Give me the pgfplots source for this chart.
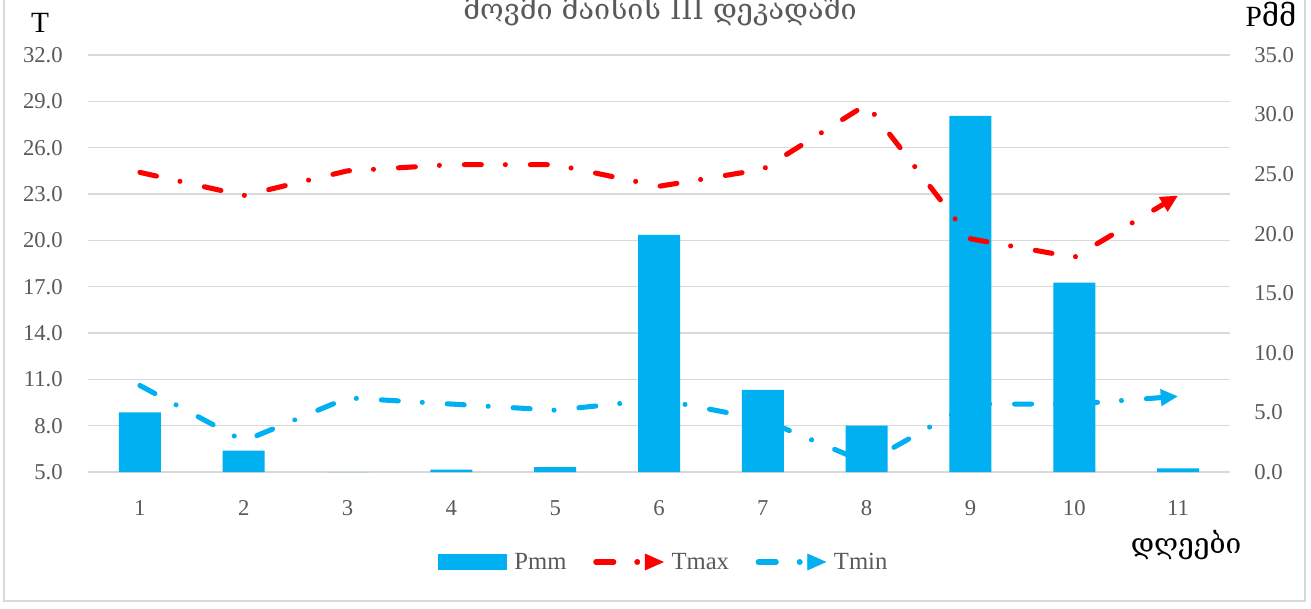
\documentclass[border=0pt]{standalone}
\usepackage{fontspec}
\setmainfont{Liberation Serif}
\newfontfamily\geo{DejaVu Serif}
\usepackage{pgfplots}
\pgfplotsset{compat=1.18}
\usetikzlibrary{arrows.meta}

\definecolor{barblue}{HTML}{00B0F0}
\definecolor{tred}{HTML}{FF0000}
\definecolor{gridgray}{HTML}{D9D9D9}
\definecolor{tickgray}{HTML}{595959}

\pgfplotsset{
  base/.style={
    at={(66pt,102pt)}, anchor=south west,
    scale only axis, width=856.5pt, height=312.75pt,
    xmin=0.5, xmax=11.5,
    major tick length=0pt,
    /pgf/number format/assume math mode=true,
    tick label style={font=\fontsize{17}{20}\selectfont, text=tickgray, inner sep=0pt},
  },
  tline/.style={line width=3.8pt, line cap=round, line join=round,
    dash pattern=on 12.75pt off 18pt on 0.01pt off 18.75pt,
    -{Triangle[length=13pt,width=12pt]}},
}

\begin{document}
\begin{tikzpicture}[x=0.75pt,y=0.75pt]
\path[use as bounding box, clip] (0,0) rectangle (1311,608);
\draw[gridgray, line width=1.2pt] (4,640) -- (4,7) -- (1305,7) -- (1305,640);

% left axis: grid and T ticks
\begin{axis}[base,
    ymin=5, ymax=32, ytick={5,8,...,32}, xtick={1,...,11},
    ymajorgrids, grid style={gridgray, line width=1pt},
    axis line style={draw=none},
    yticklabel style={anchor=east, xshift=-18.75pt,
      /pgf/number format/fixed, /pgf/number format/fixed zerofill,
      /pgf/number format/precision=1},
    xticklabel style={anchor=north, yshift=-21pt},
]
\addplot[draw=none] coordinates {(1,5)};
\end{axis}

% right axis: precipitation bars
\begin{axis}[base,
    ymin=0, ymax=35, ytick={0,5,...,35},
    axis y line*=right, hide x axis,
    axis line style={draw=none},
    yticklabel style={anchor=west, xshift=18pt,
      /pgf/number format/fixed, /pgf/number format/fixed zerofill,
      /pgf/number format/precision=1},
]
\addplot[ybar, bar width=31.5pt, fill=barblue, draw=none] coordinates {
  (1,5.0) (2,1.8) (3,0) (4,0.2) (5,0.4) (6,19.9)
  (7,6.9) (8,3.9) (9,29.9) (10,15.9) (11,0.3)
};
\end{axis}

% temperature lines
\begin{axis}[base,
    ymin=5, ymax=32, hide axis,
    legend columns=3,
    legend style={at={(0.5044,-0.2158)}, anchor=center, draw=none, fill=none,
      font=\fontsize{18.5}{22}\selectfont, text=tickgray,
      /tikz/every odd column/.append style={column sep=4pt},
      /tikz/every even column/.append style={column sep=18pt}},
]
\addlegendimage{legend image code/.code={
  \fill[barblue] (0pt,-5.6pt) rectangle (51pt,5.6pt);}}
\addlegendentry{Pmm}
\addlegendimage{legend image code/.code={
  \draw[tred, line width=3.8pt, line cap=round] (0pt,0pt) -- (13.5pt,0pt);
  \fill[tred] (31.1pt,0pt) circle (2pt);
  \fill[tred] (37.1pt,-6pt) -- (50.6pt,0pt) -- (37.1pt,6pt) -- cycle;}}
\addlegendentry{Tmax}
\addlegendimage{legend image code/.code={
  \draw[barblue, line width=3.8pt, line cap=round] (0pt,0pt) -- (13.5pt,0pt);
  \fill[barblue] (31.1pt,0pt) circle (2pt);
  \fill[barblue] (37.1pt,-6pt) -- (50.6pt,0pt) -- (37.1pt,6pt) -- cycle;}}
\addlegendentry{Tmin}

\addplot[tred, tline, forget plot] coordinates {
  (1,24.4) (2,22.9) (3,24.5) (4,24.9) (5,24.9) (6,23.5)
  (7,24.6) (8,28.8) (9,20.1) (10,18.9) (11,22.9)
};
\addplot[barblue, tline, forget plot] coordinates {
  (1,10.6) (2,7.0) (3,9.8) (4,9.4) (5,9.0) (6,9.7)
  (7,8.4) (8,5.6) (9,9.4) (10,9.4) (11,9.9)
};
\end{axis}

\node[anchor=base, text=tickgray, font=\geo\fontsize{21.5}{25}\selectfont]
  at (660,588) {მოვმი მაისის III დეკადაში};
\node[font=\fontsize{22}{25}\selectfont] at (40,585) {T};
\node[font=\fontsize{22}{25}\selectfont, anchor=base] at (1271,581) {P{\geo მმ}};
\node[font=\geo\fontsize{21}{24}\selectfont, anchor=base] at (1186,55) {დღეები};
\end{tikzpicture}
\end{document}
